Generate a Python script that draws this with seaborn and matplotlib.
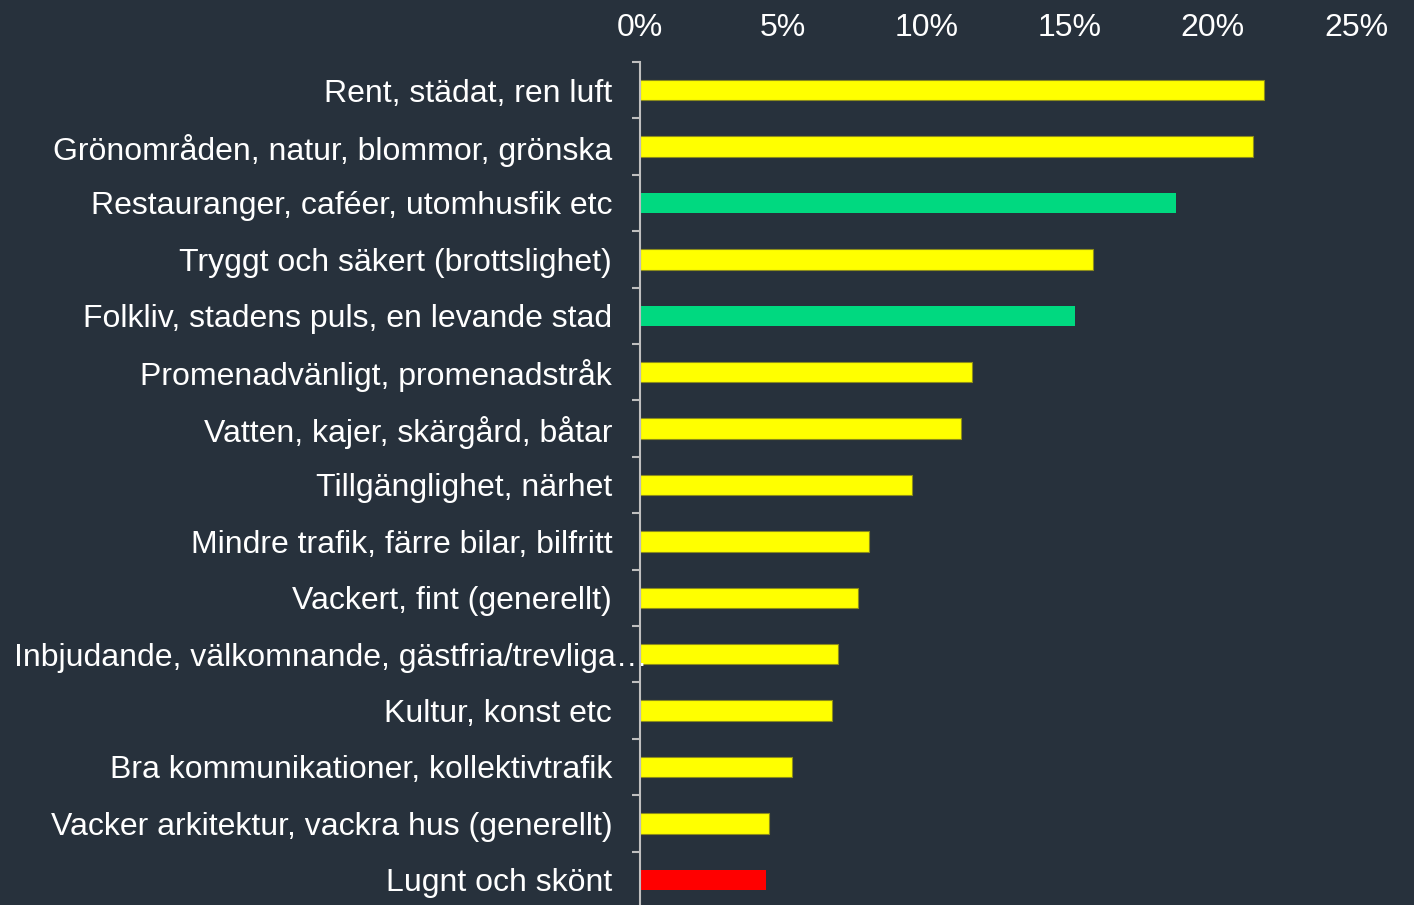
import matplotlib
matplotlib.use('Agg')
import matplotlib.pyplot as plt
import seaborn as sns
import pandas as pd
from matplotlib.ticker import PercentFormatter, MultipleLocator

# data
labels = [
    'Rent, städat, ren luft',
    'Grönområden, natur, blommor, grönska',
    'Restauranger, caféer, utomhusfik etc',
    'Tryggt och säkert (brottslighet)',
    'Folkliv, stadens puls, en levande stad',
    'Promenadvänligt, promenadstråk',
    'Vatten, kajer, skärgård, båtar',
    'Tillgänglighet, närhet',
    'Mindre trafik, färre bilar, bilfritt',
    'Vackert, fint (generellt)',
    'Inbjudande, välkomnande, gästfria/trevliga…',
    'Kultur, konst etc',
    'Bra kommunikationer, kollektivtrafik',
    'Vacker arkitektur, vackra hus (generellt)',
    'Lugnt och skönt',
]
values = [0.218, 0.214, 0.187, 0.158, 0.152, 0.116, 0.112, 0.095,
          0.080, 0.076, 0.069, 0.067, 0.053, 0.045, 0.044]
groups = ['y', 'y', 'g', 'y', 'g', 'y', 'y', 'y', 'y', 'y', 'y', 'y', 'y', 'y', 'r']

group_colours = {'y': '#ffff00', 'g': '#00d980', 'r': '#ff0000'}
bg = '#27313c'
text_col = '#ffffff'

df = pd.DataFrame({'label': labels, 'value': values, 'group': groups})

plt.rcParams['font.family'] = ['Liberation Sans', 'DejaVu Sans']

fig = plt.figure(figsize=(14.14, 9.05), dpi=100, facecolor=bg)
ax_left, ax_w = 0.4526, 0.959 - 0.4526
ax = fig.add_axes([ax_left, -0.0033, ax_w, 0.9315 + 0.0033])
ax.set_facecolor(bg)

sns.barplot(
    data=df,
    x='value',
    y='label',
    hue='label',
    palette=[group_colours[g] for g in groups],
    saturation=1,
    legend=False,
    width=0.36,
    orient='h',
    ax=ax,
)

# thin darker outline on the yellow bars, like the original
for patch, g in zip(ax.patches, groups):
    if g == 'y':
        patch.set_edgecolor('#8c8c1a')
        patch.set_linewidth(0.8)
    else:
        patch.set_linewidth(0)

ax.set_xlim(0, 0.25)
ax.set_ylim(len(labels) - 0.5, -0.5)
ax.xaxis.set_major_locator(MultipleLocator(0.05))
ax.xaxis.set_major_formatter(PercentFormatter(1.0, decimals=0))
ax.xaxis.tick_top()
ax.tick_params(axis='x', length=0, pad=14, labelsize=23, labelcolor=text_col)

# ticks between categories on the y axis
ax.set_yticks([i + 0.5 for i in range(-1, len(labels))], minor=True)
ax.tick_params(axis='y', which='major', length=0, pad=20, labelsize=23, labelcolor=text_col)
ax.tick_params(axis='y', which='minor', length=6, width=1.5, color='#bfbfbf', direction='out')

# the long truncated label runs up to the axis in the original: left-align it near the figure edge
fig_w_px = 1414
pad_px = 20 * 100 / 72
long_lbl = ax.get_yticklabels()[10]
long_lbl.set_horizontalalignment('left')
long_lbl.set_x((14 - ax_left * fig_w_px + pad_px) / (ax_w * fig_w_px))

for side in ['top', 'right', 'bottom']:
    ax.spines[side].set_visible(False)
ax.spines['left'].set_color('#bfbfbf')
ax.spines['left'].set_linewidth(1.5)

ax.set_xlabel('')
ax.set_ylabel('')

plt.savefig('out.png', dpi=100, facecolor=bg)
